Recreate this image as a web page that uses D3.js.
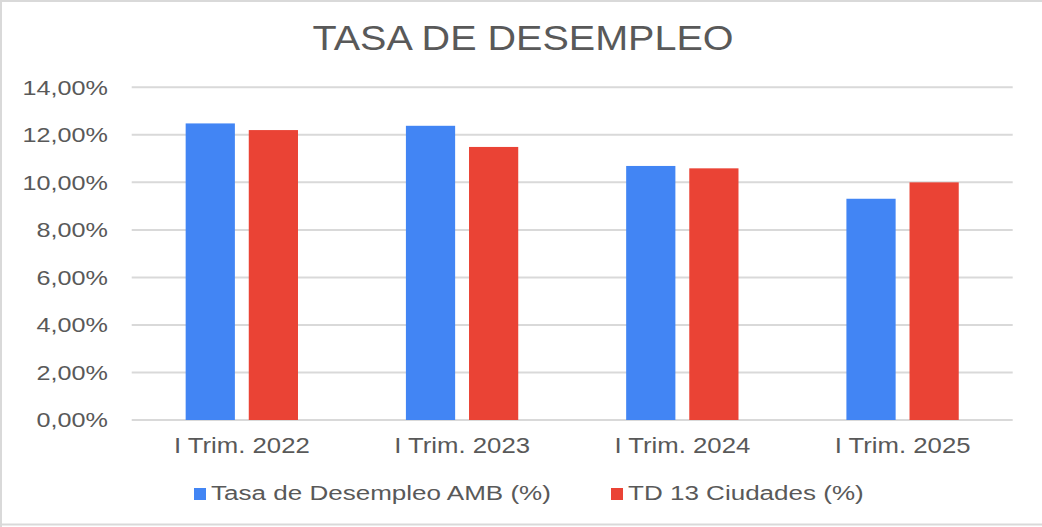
<!DOCTYPE html>
<html><head><meta charset="utf-8">
<script src="https://cdn.jsdelivr.net/npm/d3@7"></script>
<style>
html,body{margin:0;padding:0;background:#fff;}
svg{display:block;}
text{font-family:"Liberation Sans",Arial,sans-serif;fill:#595959;}
</style></head>
<body>
<svg id="chart" width="1042" height="527"></svg>
<script>
const title = "TASA DE DESEMPLEO";
const categories = ["I Trim. 2022","I Trim. 2023","I Trim. 2024","I Trim. 2025"];
const seriesNames = ["Tasa de Desempleo AMB (%)","TD 13 Ciudades (%)"];
const amb = [12.48, 12.38, 10.69, 9.31];
const td13 = [12.2, 11.49, 10.59, 10.0];
const yTicks = [0,2,4,6,8,10,12,14];
const colors = ["#4285F4","#EA4335"];

const svg = d3.select("#chart");
const W = 1042, H = 527;
const m = {left:131.7, right:1012.7, top:87.3, bottom:420};

// border
svg.append("path").attr("d", `M1,527 L1,1 L${W+5},1`).attr("fill","none").attr("stroke","#d9d9d9").attr("stroke-width",2);
svg.append("line").attr("x1",1).attr("x2",W).attr("y1",524.5).attr("y2",524.5).attr("stroke","#d9d9d9").attr("stroke-width",2);

const x0 = d3.scaleBand().domain(categories).range([m.left, m.right]).paddingInner(0.49).paddingOuter(0.245);
const x1 = d3.scaleBand().domain([0,1]).range([0, x0.bandwidth()]).paddingInner(0.22);
const y = d3.scaleLinear().domain([0,14]).range([m.bottom, m.top]);

const loc = d3.formatLocale({decimal:",", thousands:".", grouping:[3], currency:["","€"]});
const fmt = v => loc.format(".2f")(v) + "%";

// gridlines
svg.append("g").selectAll("line").data(yTicks).join("line")
  .attr("x1", m.left).attr("x2", m.right)
  .attr("y1", d=>y(d)).attr("y2", d=>y(d))
  .attr("stroke","#d9d9d9").attr("stroke-width",2);

// y labels
svg.append("g").selectAll("text").data(yTicks).join("text")
  .attr("transform", d=>`translate(108,${y(d)}) scale(1.26,1)`)
  .attr("text-anchor","end").attr("dy","0.36em")
  .style("font-size","20px").text(d=>fmt(d));

// bars
const data = categories.map((c,i)=>({c, vals:[amb[i], td13[i]]}));
const g = svg.append("g").selectAll("g").data(data).join("g")
  .attr("transform", d=>`translate(${x0(d.c)},0)`);
g.selectAll("rect").data(d=>d.vals.map((v,k)=>({v,k}))).join("rect")
  .attr("x", d=>x1(d.k)).attr("width", x1.bandwidth())
  .attr("y", d=>y(d.v)).attr("height", d=>y(0)-y(d.v))
  .attr("fill", d=>colors[d.k]);

// x labels
svg.append("g").selectAll("text").data(categories).join("text")
  .attr("transform", d=>`translate(${x0(d)+x0.bandwidth()/2},453) scale(1.17,1)`)
  .attr("text-anchor","middle").style("font-size","22px").text(d=>d);

// title
svg.append("text").attr("transform","translate(523,50) scale(1.13,1)")
  .attr("text-anchor","middle").style("font-size","35px").text(title);

// legend
const legX = [194, 611];
const lg = svg.append("g").selectAll("g").data(seriesNames).join("g")
  .attr("transform",(d,i)=>`translate(${legX[i]},0)`);
lg.append("rect").attr("x",0).attr("y",488).attr("width",12).attr("height",12).attr("fill",(d,i)=>colors[i]);
lg.append("text").attr("transform","translate(17,500) scale(1.24,1)").style("font-size","21px").text(d=>d);
</script>
</body></html>
